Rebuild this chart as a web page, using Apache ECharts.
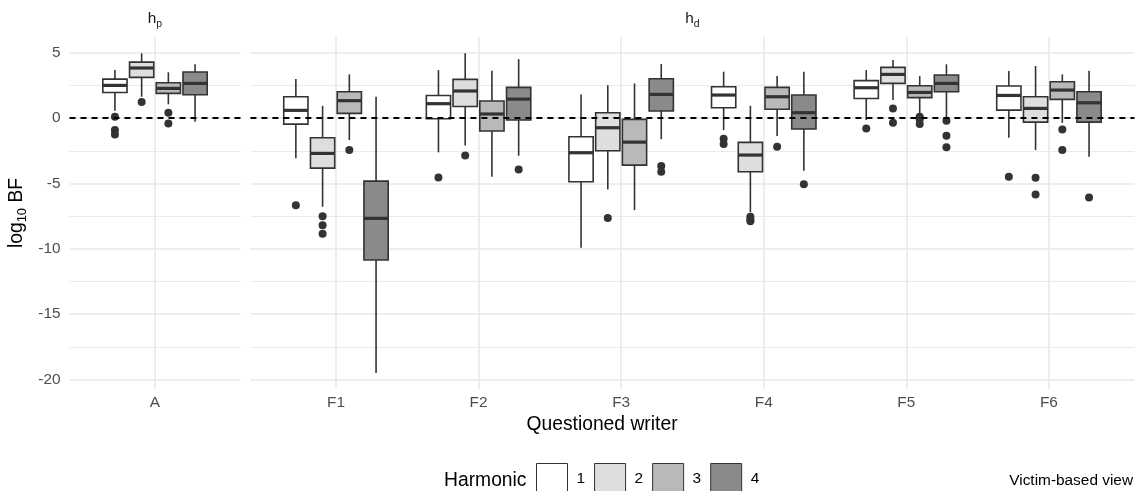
<!DOCTYPE html>
<html>
<head>
<meta charset="utf-8">
<script src="https://cdn.jsdelivr.net/npm/echarts@6/dist/echarts.min.js"></script>
<style>
  html, body { margin: 0; padding: 0; background: #ffffff; }
  #chart { width: 1137px; height: 491px; }
</style>
</head>
<body>
<div id="chart"></div>
<script>
// ---- data ---------------------------------------------------------------
const writers = ['A', 'F1', 'F2', 'F3', 'F4', 'F5', 'F6'];
const panelWriters = [['A'], ['F1', 'F2', 'F3', 'F4', 'F5', 'F6']];
const panelSubscripts = ['p', 'd'];
const harmonics = ['1', '2', '3', '4'];
const yTicks = [-20, -15, -10, -5, 0, 5];
const yMinorTicks = [-17.5, -12.5, -7.5, -2.5, 2.5];

// [lower whisker, Q1, median, Q3, upper whisker] for each writer, in `writers` order
const harmonic1 = [
  [0.56, 1.96, 2.50, 2.98, 3.67],
  [-3.08, -0.46, 0.59, 1.63, 2.98],
  [-2.62, -0.05, 1.10, 1.73, 3.67],
  [-9.92, -4.87, -2.65, -1.43, 1.81],
  [-0.92, 0.79, 1.76, 2.40, 3.55],
  [-0.15, 1.50, 2.32, 2.86, 3.67],
  [-1.51, 0.61, 1.73, 2.45, 3.60]
];
const harmonic2 = [
  [1.63, 3.11, 3.83, 4.28, 4.95],
  [-6.78, -3.83, -2.70, -1.51, 0.94],
  [-2.09, 0.89, 2.07, 2.96, 4.95],
  [-5.46, -2.50, -0.74, 0.41, 2.52],
  [-7.20, -4.11, -2.83, -1.86, 0.94],
  [1.38, 2.65, 3.34, 3.88, 4.44],
  [-2.45, -0.31, 0.74, 1.63, 3.98]
];
const harmonic3 = [
  [1.05, 1.89, 2.27, 2.70, 3.50],
  [-1.68, 0.36, 1.33, 2.01, 3.34],
  [-4.49, -0.99, 0.31, 1.30, 3.62],
  [-7.04, -3.60, -1.84, -0.10, 2.65],
  [-1.38, 0.67, 1.63, 2.35, 3.21],
  [0.23, 1.56, 1.96, 2.47, 3.21],
  [-0.36, 1.43, 2.14, 2.78, 3.34]
];
const harmonic4 = [
  [-0.28, 1.78, 2.65, 3.52, 4.11],
  [-19.49, -10.86, -7.67, -4.82, 1.63],
  [-2.88, -0.15, 1.45, 2.35, 4.51],
  [-1.61, 0.54, 1.81, 3.01, 4.13],
  [-4.03, -0.84, 0.41, 1.76, 3.55],
  [-0.02, 2.01, 2.65, 3.29, 4.11],
  [-2.96, -0.31, 1.17, 2.01, 3.62]
];

// outlying observations: [writer, log10 BF]
const outliers1 = [['A', 0.10], ['A', -0.92], ['A', -1.25], ['F1', -6.66], ['F2', -4.54],
  ['F4', -1.58], ['F4', -1.99], ['F5', -0.79], ['F6', -4.49]];
const outliers2 = [['A', 1.22], ['F1', -7.50], ['F1', -8.19], ['F1', -8.85], ['F2', -2.86],
  ['F3', -7.65], ['F4', -7.55], ['F4', -7.75], ['F4', -7.90], ['F5', 0.74], ['F5', -0.36],
  ['F6', -4.56], ['F6', -5.84]];
const outliers3 = [['A', 0.41], ['A', -0.41], ['F1', -2.45], ['F4', -2.19], ['F5', 0.10],
  ['F5', -0.10], ['F5', -0.45], ['F6', -0.87], ['F6', -2.45]];
const outliers4 = [['F2', -3.93], ['F3', -3.67], ['F3', -4.10], ['F4', -5.07], ['F5', -0.20],
  ['F5', -1.35], ['F5', -2.24], ['F6', -6.07]];

const boxStats = [harmonic1, harmonic2, harmonic3, harmonic4];
const outlierSets = [outliers1, outliers2, outliers3, outliers4];

// ---- styling ------------------------------------------------------------
const FONT = '"Liberation Sans", Arial, Helvetica, sans-serif';
const FILLS = ['#ffffff', '#dedede', '#b9b9b9', '#8a8a8a'];
const EDGE = '#333333';
const GRID_COLOR = '#e9e9e9';
const DODGE = 0.1875;    // category units between neighbouring boxes
const BOX_W = 0.17;      // box width in category units
const Y_MIN = -20.72, Y_MAX = 6.2;
const PLOT_TOP = 37, PLOT_H = 352;
const PANELS = [{ left: 69.5, width: 171 }, { left: 250.4, width: 884.1 }];

function boxRenderer(h) {
  return function (params, api) {
    const x = api.value(0) + (h - 1.5) * DODGE;
    const at = v => api.coord([x, v]);
    const lo = at(api.value(1)), q1 = at(api.value(2)), md = at(api.value(3));
    const q3 = at(api.value(4)), hi = at(api.value(5));
    const xl = api.coord([x - BOX_W / 2, 0])[0];
    const xr = api.coord([x + BOX_W / 2, 0])[0];
    const whisker = { stroke: EDGE, lineWidth: 1.6 };
    return {
      type: 'group',
      children: [
        { type: 'line', shape: { x1: lo[0], y1: lo[1], x2: q1[0], y2: q1[1] }, style: whisker },
        { type: 'line', shape: { x1: q3[0], y1: q3[1], x2: hi[0], y2: hi[1] }, style: whisker },
        { type: 'rect', shape: { x: xl, y: q3[1], width: xr - xl, height: q1[1] - q3[1] },
          style: { fill: FILLS[h], stroke: EDGE, lineWidth: 1.6 } },
        { type: 'line', shape: { x1: xl, y1: md[1], x2: xr, y2: md[1] },
          style: { stroke: EDGE, lineWidth: 3.2 } }
      ]
    };
  };
}

function outlierRenderer(h) {
  return function (params, api) {
    const c = api.coord([api.value(0) + (h - 1.5) * DODGE, api.value(1)]);
    return { type: 'circle', shape: { cx: c[0], cy: c[1], r: 4 }, style: { fill: EDGE } };
  };
}

const grids = [], xAxes = [], yAxes = [], series = [];

PANELS.forEach((p, g) => {
  const names = panelWriters[g];
  const idx = names.map((_, i) => i);
  grids.push({ left: p.left, top: PLOT_TOP, width: p.width, height: PLOT_H,
    containLabel: false, outerBoundsMode: 'none' });

  xAxes.push({
    type: 'value', gridIndex: g, min: -0.6, max: names.length - 0.4,
    axisLine: { show: false },
    axisTick: { show: false, customValues: idx },
    axisLabel: { customValues: idx, formatter: v => names[Math.round(v)] || '',
      color: '#4d4d4d', fontSize: 15.4, fontFamily: FONT, margin: 6 },
    splitLine: { show: true, lineStyle: { color: GRID_COLOR, width: 1.6 } }
  });

  // major gridlines + labels
  yAxes.push({
    type: 'value', gridIndex: g, min: Y_MIN, max: Y_MAX, position: 'left',
    axisLine: { show: false },
    axisTick: { show: false, customValues: yTicks },
    axisLabel: { show: g === 0, customValues: yTicks, color: '#4d4d4d', fontSize: 15.4,
      fontFamily: FONT, margin: 9 },
    splitLine: { show: true, lineStyle: { color: GRID_COLOR, width: 1.6 } },
    name: g === 0 ? '{b|log}{s|10}{b| BF}' : '',
    nameLocation: 'middle', nameRotate: 90, nameGap: 41,
    nameTextStyle: { color: '#000000', fontFamily: FONT, fontSize: 19.3,
      rich: {
        b: { fontSize: 19.3, fontFamily: FONT, color: '#000000', lineHeight: 24 },
        s: { fontSize: 13, fontFamily: FONT, color: '#000000', lineHeight: 12, padding: [12, 0, 0, 0] }
      } }
  });
  // minor gridlines
  yAxes.push({
    type: 'value', gridIndex: g, min: Y_MIN, max: Y_MAX, position: 'right',
    axisLine: { show: false },
    axisTick: { show: false, customValues: yMinorTicks },
    axisLabel: { show: false },
    splitLine: { show: true, lineStyle: { color: GRID_COLOR, width: 0.9 } }
  });

  harmonics.forEach((name, h) => {
    const boxData = names.map((w, i) => [i].concat(boxStats[h][writers.indexOf(w)]));
    series.push({
      type: 'custom', name: name, xAxisIndex: g, yAxisIndex: 2 * g,
      renderItem: boxRenderer(h), data: boxData, z: 3,
      encode: { x: 0, y: [1, 2, 3, 4, 5] },
      itemStyle: { color: FILLS[h] }, silent: true
    });
    const dotData = outlierSets[h].filter(o => names.includes(o[0]))
      .map(o => [names.indexOf(o[0]), o[1]]);
    series.push({
      type: 'custom', name: name, xAxisIndex: g, yAxisIndex: 2 * g,
      renderItem: outlierRenderer(h), data: dotData, z: 4,
      encode: { x: 0, y: 1 }, itemStyle: { color: FILLS[h] }, silent: true
    });
  });

  // dashed reference line at log10 BF = 0
  series.push({
    type: 'line', xAxisIndex: g, yAxisIndex: 2 * g, data: [], z: 6, silent: true,
    markLine: {
      silent: true, symbol: ['none', 'none'], label: { show: false },
      lineStyle: { color: '#000000', type: [6, 5], width: 1.8 },
      data: [{ yAxis: 0 }], animation: false
    }
  });
});

const subRich = {
  m: { fontSize: 15.4, fontFamily: FONT, fill: '#1a1a1a', color: '#1a1a1a', lineHeight: 20 },
  s: { fontSize: 10.5, fontFamily: FONT, fill: '#1a1a1a', color: '#1a1a1a', lineHeight: 10, padding: [10, 0, 0, 0] }
};

function label(text, x, y, size, align, color, rich) {
  return {
    type: 'text', x: x, y: y, silent: true,
    style: { text: text, fontSize: size, fontFamily: FONT, fill: color || '#000000',
      align: align, textAlign: align, verticalAlign: 'middle', textVerticalAlign: 'middle',
      rich: rich }
  };
}

const graphics = PANELS.map((p, g) =>
  label('{m|h}{s|' + panelSubscripts[g] + '}', p.left + p.width / 2, 19, 15.4, 'center', '#1a1a1a', subRich));
graphics.push(label('Questioned writer', PANELS[0].left + (PANELS[1].left + PANELS[1].width - PANELS[0].left) / 2,
  425, 19.3, 'center'));
graphics.push(label('Harmonic', 444, 480.5, 19.3, 'left'));
graphics.push(label('Victim-based view', 1133, 481, 15.4, 'right'));

const chart = echarts.init(document.getElementById('chart'), null, { renderer: 'canvas' });
chart.setOption({
  animation: false,
  backgroundColor: '#ffffff',
  textStyle: { fontFamily: FONT },
  grid: grids,
  xAxis: xAxes,
  yAxis: yAxes,
  series: series,
  legend: {
    left: 536, top: 463, orient: 'horizontal', padding: 0,
    itemWidth: 31, itemHeight: 31, itemGap: 9,
    selectedMode: false,
    textStyle: { fontSize: 15.4, fontFamily: FONT, color: '#000000', padding: [0, 0, 0, 4] },
    data: harmonics.map((name, h) => ({
      name: name, icon: 'rect',
      itemStyle: { color: FILLS[h], borderColor: EDGE, borderWidth: 1 }
    }))
  },
  graphic: graphics
});
</script>
</body>
</html>
